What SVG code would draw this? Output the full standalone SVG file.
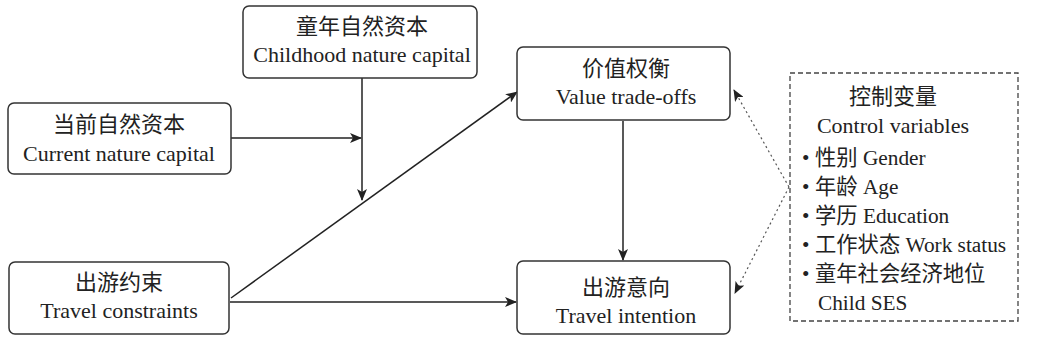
<svg xmlns="http://www.w3.org/2000/svg" width="1050" height="343" viewBox="0 0 1050 343">
<defs>
<style>
.box{fill:#fff;stroke:#333;stroke-width:1.5}
.t{font-family:"Liberation Serif","Noto Sans CJK SC",serif;font-size:22px;fill:#222;text-anchor:middle}
.l{text-anchor:start;font-size:21.3px}
.c{stroke:#222;stroke-width:1.5;fill:none}
.d{stroke:#555;stroke-width:1.2;fill:none;stroke-dasharray:2 3}
</style>
<marker id="ah" viewBox="0 0 12 10" refX="11" refY="5" markerWidth="12" markerHeight="10" markerUnits="userSpaceOnUse" orient="auto">
<path d="M0,0 L12,5 L0,10 L3,5 Z" fill="#222"/>
</marker>
</defs>
<rect width="1050" height="343" fill="#fff"/>
<g id="connectors">
<line class="c" x1="362" y1="78" x2="362" y2="200" marker-end="url(#ah)"/>
<line class="c" x1="231" y1="138" x2="361" y2="138" marker-end="url(#ah)"/>
<line class="c" x1="231" y1="298" x2="517" y2="92" marker-end="url(#ah)"/>
<line class="c" x1="230" y1="302" x2="516" y2="302" marker-end="url(#ah)"/>
<line class="c" x1="623" y1="121" x2="623" y2="260" marker-end="url(#ah)"/>
<line class="d" x1="789" y1="187" x2="734" y2="90" marker-end="url(#ah)"/>
<line class="d" x1="789" y1="187" x2="735" y2="293" marker-end="url(#ah)"/>
</g>
<g id="childhood">
<rect class="box" x="243" y="6" width="234" height="72" rx="6"/>
<text class="t" x="362" y="34">童年自然资本</text>
<text class="t" x="362" y="62">Childhood nature capital</text>
</g>
<g id="current">
<rect class="box" x="8" y="103" width="223" height="71" rx="6"/>
<text class="t" x="119" y="132">当前自然资本</text>
<text class="t" x="119" y="161">Current nature capital</text>
</g>
<g id="constraints">
<rect class="box" x="9" y="262" width="220" height="72" rx="6"/>
<text class="t" x="119" y="290">出游约束</text>
<text class="t" x="119" y="318">Travel constraints</text>
</g>
<g id="tradeoffs">
<rect class="box" x="517" y="47" width="213" height="73" rx="6"/>
<text class="t" x="626" y="76">价值权衡</text>
<text class="t" x="626" y="104">Value trade-offs</text>
</g>
<g id="intention">
<rect class="box" x="517" y="261" width="213" height="73" rx="6"/>
<text class="t" x="626" y="295">出游意向</text>
<text class="t" x="626" y="323">Travel intention</text>
</g>
<g id="controls">
<rect x="790" y="73" width="228" height="248" fill="#fff" stroke="#444" stroke-width="1.3" stroke-dasharray="5 3"/>
<text class="t" x="893" y="104">控制变量</text>
<text class="t" x="893" y="133">Control variables</text>
<text class="t l" x="802" y="165">•</text>
<text class="t l" x="815" y="165">性别 Gender</text>
<text class="t l" x="802" y="194">•</text>
<text class="t l" x="815" y="194">年龄 Age</text>
<text class="t l" x="802" y="223">•</text>
<text class="t l" x="815" y="223">学历 Education</text>
<text class="t l" x="802" y="252">•</text>
<text class="t l" x="815" y="252">工作状态 Work status</text>
<text class="t l" x="802" y="281">•</text>
<text class="t l" x="815" y="281">童年社会经济地位</text>
<text class="t l" x="818" y="310">Child SES</text>
</g>
</svg>
